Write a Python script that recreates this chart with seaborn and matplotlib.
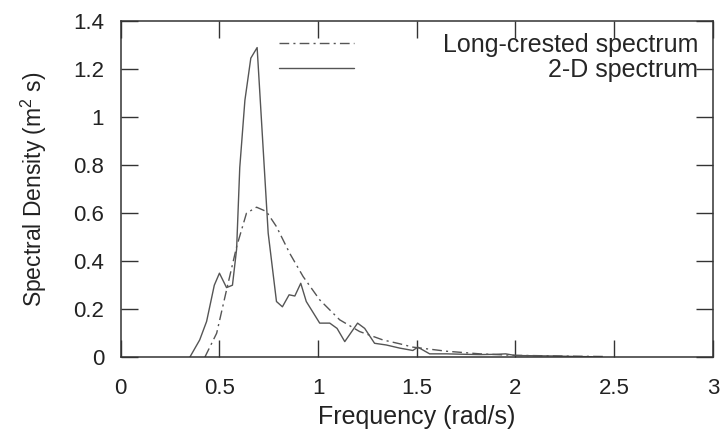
import numpy as np
import pandas as pd
import matplotlib
matplotlib.use('Agg')
import matplotlib.pyplot as plt
import matplotlib.ticker as ticker
from matplotlib.transforms import Affine2D
import seaborn as sns

sns.set_theme(style='ticks')
plt.rcParams['font.family'] = ['Liberation Sans', 'DejaVu Sans']
plt.rcParams['mathtext.fontset'] = 'custom'
plt.rcParams['mathtext.rm'] = 'Liberation Sans'
plt.rcParams['mathtext.it'] = 'Liberation Sans'

# 2-D spectrum (solid)
freq_2d = [0.35, 0.40, 0.435, 0.474, 0.50, 0.536, 0.566, 0.587, 0.603, 0.629, 0.659,
           0.691, 0.747, 0.789, 0.819, 0.853, 0.882, 0.912, 0.94, 1.008, 1.059,
           1.096, 1.135, 1.20, 1.236, 1.286, 1.345, 1.413, 1.48, 1.505, 1.565,
           1.65, 1.75, 1.82, 1.90, 1.95, 2.0, 2.1, 2.2, 2.3, 2.39]
dens_2d = [0.0, 0.072, 0.149, 0.30, 0.35, 0.29, 0.30, 0.45, 0.79, 1.07, 1.246,
           1.29, 0.517, 0.232, 0.21, 0.26, 0.255, 0.308, 0.232, 0.142, 0.142,
           0.12, 0.065, 0.142, 0.12, 0.058, 0.051, 0.038, 0.028, 0.042, 0.014,
           0.014, 0.012, 0.011, 0.012, 0.014, 0.007, 0.006, 0.005, 0.003, 0.002]

# long-crested spectrum (dash-dot)
freq_lc = [0.426, 0.486, 0.536, 0.587, 0.637, 0.688, 0.738, 0.789, 0.856, 0.924,
           1.008, 1.109, 1.21, 1.328, 1.413, 1.48, 1.65, 1.82, 1.985, 2.15, 2.3, 2.45]
dens_lc = [0.0, 0.10, 0.28, 0.46, 0.60, 0.625, 0.607, 0.544, 0.433, 0.336,
           0.239, 0.156, 0.107, 0.072, 0.056, 0.042, 0.025, 0.014, 0.008, 0.006, 0.004, 0.003]

x_ticks = [0, 0.5, 1, 1.5, 2, 2.5, 3]
y_ticks = [0, 0.2, 0.4, 0.6, 0.8, 1, 1.2, 1.4]

df_lc = pd.DataFrame({'freq': freq_lc, 'dens': dens_lc})
df_2d = pd.DataFrame({'freq': freq_2d, 'dens': dens_2d})

fig = plt.figure(figsize=(7.23, 4.41), dpi=100)
ax = fig.add_axes([0.167, 0.19, 0.819, 0.762])
line_col = '#555555'
sns.lineplot(data=df_lc, x='freq', y='dens', ax=ax, color=line_col, lw=1.0,
             label='Long-crested spectrum', estimator=None, sort=False)
sns.lineplot(data=df_2d, x='freq', y='dens', ax=ax, color=line_col, lw=1.0,
             label='2-D spectrum', estimator=None, sort=False)
ax.lines[0].set_dashes([7, 3, 1.5, 3])

ax.set_xlim(0, 3)
ax.set_ylim(0, 1.4)
ax.set_xticks(x_ticks)
ax.set_yticks(y_ticks)
ax.xaxis.set_major_formatter(ticker.FormatStrFormatter('%g'))
ax.yaxis.set_major_formatter(ticker.FormatStrFormatter('%g'))
ax.tick_params(direction='in', length=12, width=1, colors='#333333', labelsize=16,
               top=True, right=True, labelcolor='#222222')
ax.tick_params(axis='x', pad=15)
ax.tick_params(axis='y', pad=12)
for s in ax.spines.values():
    s.set_visible(True)
    s.set_color('#333333')
    s.set_linewidth(1.1)
ax.set_xlabel('Frequency (rad/s)', fontsize=18, color='#222222', labelpad=4)
ax.set_ylabel('Spectral Density (m$^2$ s)', fontsize=16.5, color='#222222', labelpad=17)

leg = ax.legend(loc='upper right', frameon=False, fontsize=18, handlelength=3.0,
                handletextpad=3.55, labelspacing=0.05, borderaxespad=0.2,
                bbox_to_anchor=(1.0, 1.01))
# right-justify the legend labels like the original
fig.canvas.draw()
rend = fig.canvas.get_renderer()
texts = leg.get_texts()
widths = [t.get_window_extent(rend).width for t in texts]
w = max(widths)
for t, tw in zip(texts, widths):
    t.set_transform(t.get_transform() + Affine2D().translate(w - tw, 0))

fig.savefig('out.png', dpi=100)
